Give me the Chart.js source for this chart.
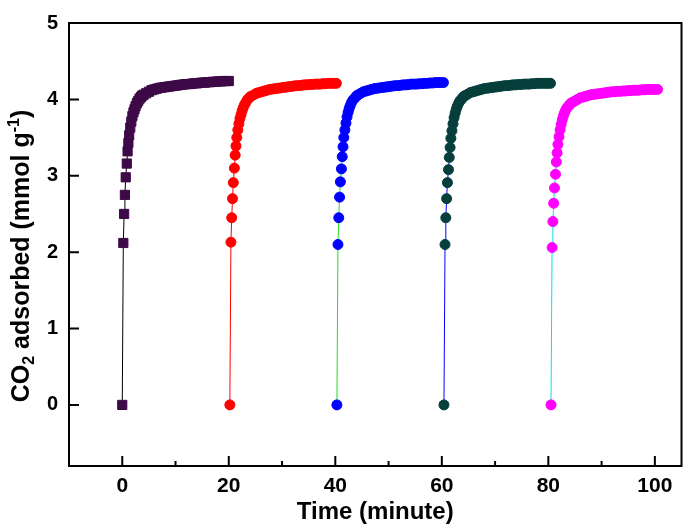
<!DOCTYPE html>
<html>
<head>
<meta charset="utf-8">
<script src="https://cdn.jsdelivr.net/npm/chart.js@4.4.1/dist/chart.umd.min.js"></script>
<style>
  html, body { margin: 0; padding: 0; background: #fff; }
</style>
</head>
<body>
<canvas id="chart" width="689" height="532"></canvas>
<script>
// minutes since the start of each adsorption cycle
const relTime = [0, 0.2, 0.35, 0.5, 0.65, 0.85, 1.0, 1.15, 1.3, 1.5, 1.7, 1.9, 2.1, 2.3, 2.5, 2.75,
    3.0, 3.25, 3.5, 3.75, 4.0, 4.5, 5.0, 5.5, 6.0, 6.5, 7.0, 7.5, 8.0, 8.5, 9.0, 9.5, 10.0, 10.5,
    11.0, 11.5, 12.0, 12.5, 13.0, 13.5, 14.0, 14.5, 15.0, 15.5, 16.0, 16.5, 17.0, 17.5, 18.0, 18.5,
    19.0, 19.5, 20.0];
const cycleStart = [0, 20.2, 40.3, 60.4, 80.5];

// CO2 adsorbed (mmol/g)
const cycle1 = [0, 2.12, 2.50, 2.75, 2.98, 3.16, 3.32, 3.43, 3.53, 3.63, 3.71, 3.78, 3.83, 3.87, 3.91, 3.95,
    3.98, 4.01, 4.03, 4.05, 4.06, 4.08, 4.10, 4.12, 4.13, 4.14, 4.15, 4.155, 4.16, 4.165, 4.17, 4.175, 4.18, 4.185,
    4.19, 4.195, 4.20, 4.20, 4.205, 4.21, 4.21, 4.215, 4.22, 4.22, 4.225, 4.225, 4.23, 4.23, 4.235, 4.235,
    4.24, 4.24, 4.24];
const cycle2 = [0, 2.13, 2.45, 2.70, 2.91, 3.10, 3.27, 3.39, 3.50, 3.60, 3.68, 3.75, 3.80, 3.85, 3.89, 3.93,
    3.96, 3.99, 4.01, 4.03, 4.04, 4.06, 4.08, 4.09, 4.10, 4.11, 4.12, 4.13, 4.135, 4.14, 4.145, 4.15, 4.155, 4.16,
    4.165, 4.17, 4.175, 4.18, 4.18, 4.185, 4.19, 4.19, 4.195, 4.195, 4.20, 4.20, 4.20, 4.205, 4.205, 4.21,
    4.21, 4.21, 4.21];
const cycle3 = [0, 2.10, 2.45, 2.72, 2.92, 3.09, 3.25, 3.38, 3.50, 3.60, 3.69, 3.77, 3.83, 3.88, 3.92, 3.96,
    3.99, 4.01, 4.03, 4.05, 4.06, 4.08, 4.10, 4.11, 4.12, 4.13, 4.14, 4.145, 4.15, 4.155, 4.16, 4.165, 4.17, 4.175,
    4.18, 4.18, 4.185, 4.19, 4.19, 4.195, 4.20, 4.20, 4.20, 4.205, 4.205, 4.21, 4.21, 4.215, 4.215, 4.22,
    4.22, 4.22, 4.22];
const cycle4 = [0, 2.10, 2.45, 2.70, 2.91, 3.08, 3.24, 3.37, 3.49, 3.59, 3.68, 3.76, 3.82, 3.87, 3.91, 3.95,
    3.98, 4.00, 4.02, 4.04, 4.05, 4.07, 4.09, 4.10, 4.11, 4.12, 4.13, 4.14, 4.145, 4.15, 4.155, 4.16, 4.165, 4.17,
    4.175, 4.18, 4.18, 4.185, 4.19, 4.19, 4.195, 4.195, 4.20, 4.20, 4.20, 4.205, 4.205, 4.21, 4.21, 4.21,
    4.21, 4.21, 4.21];
const cycle5 = [0, 2.06, 2.40, 2.64, 2.84, 3.02, 3.18, 3.30, 3.41, 3.51, 3.60, 3.67, 3.73, 3.78, 3.82, 3.86,
    3.89, 3.91, 3.93, 3.95, 3.96, 3.98, 4.00, 4.02, 4.03, 4.04, 4.05, 4.06, 4.065, 4.07, 4.075, 4.08, 4.085, 4.09,
    4.095, 4.10, 4.10, 4.105, 4.105, 4.11, 4.11, 4.115, 4.115, 4.12, 4.12, 4.12, 4.125, 4.125, 4.13, 4.13,
    4.13, 4.13, 4.13];

const xTicks = [0, 20, 40, 60, 80, 100];
const xMinorTicks = [10, 30, 50, 70, 90];
const yTicks = [0, 1, 2, 3, 4, 5];

const FONT = "'Liberation Sans', Arial, sans-serif";

function points(vals, start) {
    return vals.map((v, i) => ({ x: relTime[i] + start, y: v }));
}

function cycleSet(vals, start, fill, line, style, radius) {
    return {
        data: points(vals, start),
        borderColor: line,
        borderWidth: 1,
        backgroundColor: fill,
        pointBackgroundColor: fill,
        pointBorderColor: fill,
        pointBorderWidth: 1,
        pointStyle: style,
        pointRadius: radius,
        tension: 0,
    };
}

// box round the plot, inward ticks, y title with sub/superscript
const framePlugin = {
    id: "frame",
    afterDraw(chart) {
        const { ctx, chartArea: a, scales } = chart;
        ctx.save();
        ctx.strokeStyle = "#000";
        ctx.lineWidth = 2;
        ctx.strokeRect(a.left, a.top, a.right - a.left, a.bottom - a.top);

        ctx.beginPath();
        xTicks.forEach(v => {
            const x = scales.x.getPixelForValue(v);
            ctx.moveTo(x, a.bottom); ctx.lineTo(x, a.bottom - 10);
        });
        xMinorTicks.forEach(v => {
            const x = scales.x.getPixelForValue(v);
            ctx.moveTo(x, a.bottom); ctx.lineTo(x, a.bottom - 5);
        });
        yTicks.forEach(v => {
            const y = scales.y.getPixelForValue(v);
            ctx.moveTo(a.left, y); ctx.lineTo(a.left + 10, y);
        });
        ctx.stroke();

        // y axis title
        const parts = [
            { t: "CO", size: 25, dy: 0 },
            { t: "2", size: 16, dy: 5 },
            { t: " adsorbed (mmol g", size: 25, dy: 0 },
            { t: "-1", size: 16, dy: -10 },
            { t: ")", size: 25, dy: 0 },
        ];
        let total = 0;
        parts.forEach(p => {
            ctx.font = "bold " + p.size + "px " + FONT;
            p.w = ctx.measureText(p.t).width;
            total += p.w;
        });
        ctx.translate(20, 256);
        ctx.rotate(-Math.PI / 2);
        ctx.fillStyle = "#000";
        ctx.textBaseline = "alphabetic";
        let x = -total / 2;
        parts.forEach(p => {
            ctx.font = "bold " + p.size + "px " + FONT;
            ctx.fillText(p.t, x, 9 + p.dy);
            x += p.w;
        });
        ctx.restore();
    }
};

new Chart(document.getElementById("chart"), {
    type: "line",
    data: {
        datasets: [
            cycleSet(cycle1, cycleStart[0], "#3d0a47", "#000000", "rect", 6.5),
            cycleSet(cycle2, cycleStart[1], "#ff0000", "#ff0000", "circle", 5),
            cycleSet(cycle3, cycleStart[2], "#0000ff", "#22dd22", "circle", 5),
            cycleSet(cycle4, cycleStart[3], "#053e3b", "#0000ff", "circle", 5),
            cycleSet(cycle5, cycleStart[4], "#ff00ff", "#00e0ee", "circle", 5),
        ]
    },
    options: {
        responsive: false,
        animation: false,
        devicePixelRatio: 1,
        layout: { padding: { top: 11, right: 5, left: 0, bottom: 0 } },
        plugins: {
            legend: { display: false },
            tooltip: { enabled: false },
        },
        scales: {
            x: {
                type: "linear",
                min: -10,
                max: 105,
                afterFit: s => { s.height = 66; },
                afterBuildTicks: s => { s.ticks = xTicks.map(v => ({ value: v })); },
                grid: { display: false, drawTicks: false },
                border: { display: false },
                ticks: {
                    padding: 8,
                    color: "#000",
                    font: { family: FONT, size: 21, weight: "bold" },
                },
                title: {
                    display: true,
                    text: "Time (minute)",
                    color: "#000",
                    font: { family: FONT, size: 24, weight: "bold" },
                    padding: { top: 0, bottom: 5 },
                },
            },
            y: {
                min: -0.8,
                max: 5,
                afterFit: s => { s.width = 69; },
                afterBuildTicks: s => { s.ticks = yTicks.map(v => ({ value: v })); },
                grid: { display: false, drawTicks: false },
                border: { display: false },
                ticks: {
                    padding: 11,
                    color: "#000",
                    font: { family: FONT, size: 20, weight: "bold" },
                },
            },
        },
    },
    plugins: [framePlugin],
});
</script>
</body>
</html>
